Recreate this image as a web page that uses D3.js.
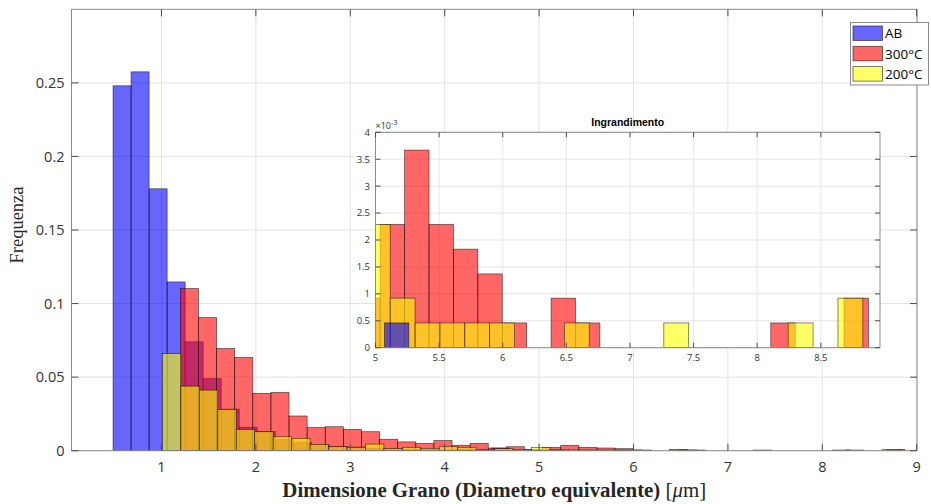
<!DOCTYPE html>
<html><head><meta charset="utf-8">
<script src="https://cdn.jsdelivr.net/npm/d3@7"></script>
<style>body{margin:0;background:#fff} svg{display:block}</style>
</head><body><svg id="chart" width="931" height="504"></svg>
<script>
// Grain-size histograms (probability normalisation), one per sample condition.
const seriesNames = ["AB", "300°C", "200°C"];
const seriesColors = ["#0000ff", "#ff0000", "#ffff00"];

const binStartAB = 0.487, binWidthAB = 0.191;
const freqAB = [0.248, 0.2575, 0.178, 0.1147, 0.074, 0.049, 0.0283, 0.016, 0.013,
  0.0075, 0.0055, 0.004, 0.003, 0.0025, 0.0018, 0.0014, 0.0009, 0.0009, 0.0005,
  0.0009, 0.0005, 0.0018, 0, 0, 0.00046];

const binStart300 = 1.20, binWidth300 = 0.19185;
const freq300 = [0.1102, 0.0905, 0.0695, 0.0634, 0.0390, 0.0396, 0.0236, 0.0158,
  0.0163, 0.0145, 0.0129, 0.0078, 0.0060, 0.0050, 0.0069, 0.0037, 0.0050, 0.0018,
  0.0027, 0.00092, 0.00229, 0.00367, 0.00229, 0.00183, 0.00137, 0.00046, 0,
  0.00092, 0.00046, 0, 0, 0, 0, 0, 0, 0, 0.00046, 0, 0, 0.00092];

const binStart200 = 1.01, binWidth200 = 0.1955;
const freq200 = [0.066, 0.0439, 0.0412, 0.0281, 0.0145, 0.0129, 0.0095, 0.0084,
  0.0043, 0.0027, 0.0023, 0.0045, 0.0016, 0.0023, 0.0016, 0.0027, 0.0023, 0.0009,
  0.0014, 0.0009, 0.00229, 0.00092, 0.00046, 0.00046, 0.00046, 0.00046, 0, 0,
  0.00046, 0, 0, 0, 0.00046, 0, 0, 0, 0, 0.00046, 0, 0.00092];

const xTicksMain = [1, 2, 3, 4, 5, 6, 7, 8, 9];
const yTicksMain = [0, 0.05, 0.1, 0.15, 0.2, 0.25];
const xTicksZoom = [5, 5.5, 6, 6.5, 7, 7.5, 8, 8.5];
const yTicksZoom = [0, 0.0005, 0.001, 0.0015, 0.002, 0.0025, 0.003, 0.0035, 0.004];

const xLabelBold = "Dimensione Grano (Diametro equivalente)";
const yLabelText = "Frequenza";
const zoomTitle = "Ingrandimento";

function makeBins(start, width, freq) {
  return freq.map((v, i) => ({ x0: start + i * width, x1: start + (i + 1) * width, y: v }))
             .filter(d => d.y > 0);
}
const series = [
  makeBins(binStartAB, binWidthAB, freqAB),
  makeBins(binStart300, binWidth300, freq300),
  makeBins(binStart200, binWidth200, freq200)
];

const svg = d3.select("#chart");
const tickFont = "'Open Sans', 'DejaVu Sans', sans-serif";

function drawAxes(g, box, x, y, opts) {
  const { xt, yt, tickLen, fontSize, yFmt, xFmt, gridColor, axisColor, labelGapX, labelGapY } = opts;
  g.append("rect").attr("x", box.l).attr("y", box.t)
    .attr("width", box.r - box.l).attr("height", box.b - box.t).attr("fill", "#fff");
  const grid = g.append("g");
  grid.selectAll(".gx").data(xt).join("line")
    .attr("x1", d => x(d)).attr("x2", d => x(d)).attr("y1", box.t).attr("y2", box.b)
    .attr("stroke", gridColor).attr("stroke-width", 1);
  grid.selectAll(".gy").data(yt).join("line")
    .attr("y1", d => y(d)).attr("y2", d => y(d)).attr("x1", box.l).attr("x2", box.r)
    .attr("stroke", gridColor).attr("stroke-width", 1);
  return {
    frame() {
      const f = g.append("g");
      f.append("rect").attr("x", box.l).attr("y", box.t)
        .attr("width", box.r - box.l).attr("height", box.b - box.t)
        .attr("fill", "none").attr("stroke", axisColor).attr("stroke-width", 1);
      const tk = f.append("g").attr("stroke", "#4d4d4d").attr("stroke-width", 1);
      xt.forEach(v => {
        tk.append("line").attr("x1", x(v)).attr("x2", x(v)).attr("y1", box.b).attr("y2", box.b - tickLen);
        tk.append("line").attr("x1", x(v)).attr("x2", x(v)).attr("y1", box.t).attr("y2", box.t + tickLen);
      });
      yt.forEach(v => {
        tk.append("line").attr("y1", y(v)).attr("y2", y(v)).attr("x1", box.l).attr("x2", box.l + tickLen);
        tk.append("line").attr("y1", y(v)).attr("y2", y(v)).attr("x1", box.r).attr("x2", box.r - tickLen);
      });
      f.selectAll(".xl").data(xt).join("text")
        .attr("x", d => x(d)).attr("y", box.b + labelGapX)
        .attr("text-anchor", "middle").attr("font-family", tickFont)
        .attr("font-size", fontSize).attr("fill", "#333").text(xFmt);
      f.selectAll(".yl").data(yt).join("text")
        .attr("x", box.l - labelGapY).attr("y", d => y(d)).attr("dy", "0.36em")
        .attr("text-anchor", "end").attr("font-family", tickFont)
        .attr("font-size", fontSize).attr("fill", "#333").text(yFmt);
    }
  };
}

// order: indices of series in stacking order (first drawn lies underneath)
function drawBars(g, x, y, clipId, order) {
  order.forEach(si => {
    g.append("g").attr("clip-path", `url(#${clipId})`)
      .selectAll("rect").data(series[si]).join("rect")
      .attr("x", d => x(d.x0)).attr("width", d => x(d.x1) - x(d.x0))
      .attr("y", d => y(d.y)).attr("height", d => y(0) - y(d.y))
      .attr("fill", seriesColors[si]).attr("fill-opacity", 0.6)
      .attr("stroke", "#000").attr("stroke-opacity", 0.65).attr("stroke-width", 0.7);
  });
}

const defs = svg.append("defs");

// ---------- main axes ----------
const M = { l: 71.5, r: 917, t: 9.3, b: 450.7 };
const xMain = d3.scaleLinear().domain([0.047, 9.003]).range([M.l, M.r]);
const yMain = d3.scaleLinear().domain([0, 0.3]).range([M.b, M.t]);
defs.append("clipPath").attr("id", "clipMain").append("rect")
  .attr("x", M.l).attr("y", M.t).attr("width", M.r - M.l).attr("height", M.b - M.t);
const gMain = svg.append("g");
const mainAx = drawAxes(gMain, M, xMain, yMain, {
  xt: xTicksMain, yt: yTicksMain, tickLen: 7, fontSize: 14.5,
  xFmt: d => String(d), yFmt: d => String(d),
  gridColor: "#e3e3e3", axisColor: "#8a8a8a", labelGapX: 21, labelGapY: 7
});
drawBars(gMain, xMain, yMain, "clipMain", [0, 1, 2]);
mainAx.frame();

// axis titles
const xTitle = svg.append("text").attr("x", (M.l + M.r) / 2).attr("y", 497)
  .attr("text-anchor", "middle").attr("font-family", "'Liberation Serif', 'DejaVu Serif', serif")
  .attr("font-size", 18).attr("fill", "#262626");
xTitle.append("tspan").attr("font-weight", "bold").text(xLabelBold + " ");
xTitle.append("tspan").text("[");
xTitle.append("tspan").attr("font-style", "italic").text("μ");
xTitle.append("tspan").text("m]");
// stretch the title to its set width
const targetW = 424;
const curW = xTitle.node().getComputedTextLength();
xTitle.attr("font-size", 18 * targetW / curW);

svg.append("text")
  .attr("transform", `translate(23,${(M.t + M.b) / 2 - 5}) rotate(-90)`)
  .attr("text-anchor", "middle").attr("font-family", "'Liberation Serif', 'DejaVu Serif', serif")
  .attr("font-size", 18.5).attr("fill", "#262626").text(yLabelText);

// ---------- legend ----------
const leg = svg.append("g");
leg.append("rect").attr("x", 850.5).attr("y", 22.5).attr("width", 78).attr("height", 62.5)
  .attr("fill", "#fff").attr("stroke", "#8a8a8a").attr("stroke-width", 1);
seriesNames.forEach((name, i) => {
  const yy = 26 + i * 20.3;
  leg.append("rect").attr("x", 853).attr("y", yy).attr("width", 29.5).attr("height", 14.5)
    .attr("fill", seriesColors[i]).attr("fill-opacity", 0.6)
    .attr("stroke", "#000").attr("stroke-opacity", 0.65).attr("stroke-width", 0.8);
  leg.append("text").attr("x", 885).attr("y", yy + 7.5).attr("dy", "0.36em")
    .attr("font-family", tickFont).attr("font-size", 13.5).attr("fill", "#000").text(name);
});

// ---------- zoomed inset ----------
const Z = { l: 375.5, r: 880, t: 132.3, b: 347.7 };
const xZoom = d3.scaleLinear().domain([5, 8.965]).range([Z.l, Z.r]);
const yZoom = d3.scaleLinear().domain([0, 0.004]).range([Z.b, Z.t]);
defs.append("clipPath").attr("id", "clipZoom").append("rect")
  .attr("x", Z.l).attr("y", Z.t).attr("width", Z.r - Z.l).attr("height", Z.b - Z.t);
const gZoom = svg.append("g");
const zoomAx = drawAxes(gZoom, Z, xZoom, yZoom, {
  xt: xTicksZoom, yt: yTicksZoom, tickLen: 5, fontSize: 9.5,
  xFmt: d => String(d), yFmt: d => String(Math.round(d * 1e4) / 10),
  gridColor: "#e6e6e6", axisColor: "#8a8a8a", labelGapX: 13.5, labelGapY: 5.5
});
// in the inset the 300°C bars lie underneath, AB on top
drawBars(gZoom, xZoom, yZoom, "clipZoom", [1, 2, 0]);
zoomAx.frame();

const expo = gZoom.append("text").attr("x", Z.l).attr("y", Z.t - 3.5)
  .attr("font-family", tickFont).attr("font-size", 9).attr("fill", "#333");
expo.append("tspan").text("×10");
expo.append("tspan").attr("dy", -3.5).attr("font-size", 7.5).text("-3");

gZoom.append("text").attr("x", (Z.l + Z.r) / 2).attr("y", 125.5)
  .attr("text-anchor", "middle").attr("font-family", "'Liberation Sans', Arial, sans-serif")
  .attr("font-weight", "bold").attr("font-size", 10.5).attr("fill", "#000").text(zoomTitle);
</script></body></html>
